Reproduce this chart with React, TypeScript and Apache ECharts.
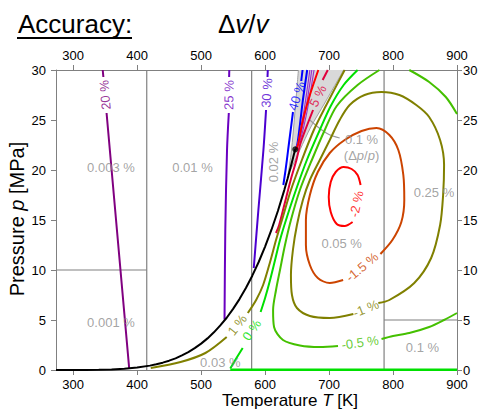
import React, { useEffect, useRef } from "react";
import * as echarts from "echarts";

const FONT = "'Liberation Sans', Arial, Helvetica, sans-serif";

// ---- axes ----
const xTicks = [300, 400, 500, 600, 700, 800, 900];
const tMin = 273.15;
const tMax = 900;

// ---- saturation curve [T K, p MPa] ----
const saturationCurve = [[273.16, 0.0006], [300, 0.0035], [320, 0.0106], [340, 0.0272], [360, 0.0622], [380, 0.129], [400, 0.2458], [420, 0.4373], [430, 0.5706], [440, 0.7334], [450, 0.9322], [460, 1.1687], [470, 1.466], [480, 1.7905], [490, 2.1861], [500, 2.6392], [510, 3.16], [520, 3.7651], [530, 4.46], [540, 5.2259], [550, 6.117], [560, 7.0879], [570, 8.2], [580, 9.43], [590, 10.8], [600, 12.345], [610, 14.03], [620, 15.901], [630, 17.99], [635, 19.11], [640, 20.3], [643, 21.04], [645, 21.55], [647.1, 22.064]];
const criticalPoint = [647.1, 22.064];

// ---- region boundaries ----
const boundaryLines = [
  [[415, 0], [415, 30]],
  [[579, 0], [579, 30]],
  [[786, 0], [786, 30]],
  [[273.15, 10], [415, 10]],
  [[786, 5], [900, 5]],
];
const wedgeLeft = [[652.1, 30], [648.2, 27], [644.3, 24], [640.4, 21.5], [635.8, 19.5]];
const wedgeRight = [[635.8, 19.5], [643.5, 20.5], [654.4, 22], [671.5, 24.3], [693.3, 26.7], [722.8, 30]];
const leaderLine = [[670, 25], [695.7, 23.7], [716.6, 23.2]];

// ---- isolines ----
const iso20 = [[[346.2, 30], [347.2, 29.3]], [[352.2, 25.7], [368.4, 14], [387.5, 0.2]]];
const iso25 = [[[544, 30], [543.8, 29.3]], [[543.3, 25.7], [540.5, 22], [537.8, 14], [536.6, 5.05]]];
const iso30 = [[[604.2, 30], [603.8, 29.3]], [[601.5, 26], [597.4, 22], [589.5, 16], [582.3, 10.2]]];
const iso40 = [[[658.6, 30], [656.5, 28.9]], [[643.6, 25.8], [639, 23.5], [636, 22], [632, 20], [628.5, 18.5]], [[665.8, 30], [659.1, 27], [654.4, 24.5], [650.5, 22.6], [648, 22.1]]];
const iso50 = [
  [[670, 30], [661, 26], [653, 23.2], [648.3, 22.1]],
  [[673, 30], [663.5, 26], [654.5, 23.2], [648.5, 22.1]],
  [[676.5, 30], [666, 26], [656, 23.2], [648.7, 22.1]],
];
const isoRed = [[[683.2, 30], [670, 27.5], [659.1, 25], [651.3, 22.5], [648.2, 22.05]]];
const iso5 = [[[698, 30], [690, 29]], [[675, 26], [664, 24.2], [655, 22.6], [649, 21], [640, 19], [630, 16.5], [622, 14.5], [617, 13.7]]];
const iso1 = [
  [[724.4, 30], [694.9, 26.4], [676.2, 24], [657.5, 21], [640.4, 18], [626.4, 15], [617.1, 13], [607.8, 10.8], [596.9, 8.5], [586, 7], [573, 5.7]],
  [[540, 3.3], [506.7, 1.7], [467.9, 0.8], [421.3, 0.2]],
];
const iso0 = [
  [[744.6, 30], [722.8, 28.5], [702.6, 26.4], [685.5, 24], [665.3, 21], [648.2, 18], [632.7, 15], [623.3, 13], [615.6, 11], [607.8, 9], [600, 7.2], [593, 5.8]],
  [[565, 2.2], [553.4, 1.0], [545.6, 0.15]],
];
const iso0Base = [[545.6, 0.03], [900, 0.03]];
const isoM05 = [
  [[778.8, 30], [744.6, 28.5], [712, 26.4], [693.3, 24], [673.1, 21], [654.4, 18], [640.4, 15], [631.1, 12.5], [623.3, 10], [617.1, 8], [612.5, 6], [614, 4.3], [628, 3], [654.4, 2.45], [685.5, 2.3], [714, 2.4]],
  [[782, 3.1], [800, 3.4], [825.4, 3.7], [856.5, 4.3], [879.8, 5.0], [900, 5.7]],
  [[825.4, 30], [856.5, 28.8], [882.5, 27.3], [900, 25.6]],
];
const isoM1 = [[[738, 5.6], [701.1, 5.2], [670, 5.4], [649.8, 6.2], [642, 7.5], [640.4, 9.5], [643.5, 12], [649.8, 14.5], [659.1, 17], [670, 19], [685.5, 21], [701.1, 23], [716.6, 25], [732.2, 26.5], [755.5, 27.5], [781.9, 27.8], [809.9, 27.5], [836.3, 26.5], [856.5, 25.3], [873.6, 23], [879.8, 20.5], [878.3, 17.5], [873.6, 14.5], [859.6, 11.2], [833.2, 8.7], [794.3, 7.0], [777, 6.7]]];
const isoM15 = [[[780.3, 11.6], [799, 13], [813, 14.8], [817.6, 17], [816.1, 19.5], [808.3, 22], [794.3, 23.5], [774.1, 24.2], [750.8, 23.9], [724.4, 23], [701.1, 21.7], [682.4, 19.8], [670, 17.5], [663.8, 15], [663.8, 12.5], [670, 10.5], [682.4, 9.2], [701.1, 8.7], [722, 9.0]]];
const isoM2 = [[[736.8, 14.8], [724.4, 14.4], [712, 14.6], [702.6, 15.8], [699.5, 17.3], [702.6, 18.8], [710.4, 19.8], [722.8, 20.3], [735.3, 20.1], [744.6, 19.5], [749.3, 18.5]]];

// ---- labels: [text, T, p, rotation, colour] ----
const contourLabels: [string, number, number, number, string][] = [
  ["20 %", 349.7, 27.5, 95, "#800080"],
  ["25 %", 543.5, 27.5, 89, "#6a00c0"],
  ["30 %", 602.8, 27.7, 86, "#4c00d0"],
  ["40 %", 649.5, 27.4, 72, "#0000ff"],
  ["5 %", 682.4, 27.4, 63, "#e0003c"],
  ["1 %", 556.5, 4.5, 52, "#808000"],
  ["0 %", 579, 4.0, 55, "#00e000"],
  ["-0.5 %", 748.5, 2.75, 8, "#44c000"],
  ["-1 %", 757.5, 6.15, 22, "#808000"],
  ["-1.5 %", 751.5, 10.3, 40, "#cc4400"],
  ["-2 %", 743, 16.6, 78, "#ff0000"],
];
const grayLabels: [string, number, number, number][] = [
  ["0.003 %", 359, 20.3, 0],
  ["0.01 %", 486.5, 20.3, 0],
  ["0.02 %", 612.4, 20.8, 90],
  ["0.1 %", 750.8, 23.1, 0],
  ["(Δ{i|p}/{i|p})", 750.8, 21.5, 0],
  ["0.25 %", 864, 17.8, 0],
  ["0.05 %", 719.7, 12.7, 0],
  ["0.001 %", 359, 4.8, 0],
  ["0.03 %", 530, 0.8, 0],
  ["0.1 %", 846, 2.27, 0],
];

const GRAY_TXT = "#8c8c8c";

function lineSeries(data: number[][], color: string, width = 2, smooth: number | boolean = 0.3, z = 3) {
  return {
    type: "line",
    data,
    xAxisIndex: 0,
    yAxisIndex: 0,
    symbol: "none",
    showSymbol: false,
    smooth,
    lineStyle: { color, width },
    z,
    silent: true,
    clip: true,
  };
}

function group(segs: number[][][], color: string, width = 2, smooth: number | boolean = 0.3, z = 3) {
  return segs.map((s) => lineSeries(s, color, width, smooth, z));
}

export default function App() {
  const ref = useRef<HTMLDivElement>(null);
  useEffect(() => {
    if (!ref.current) return;
    const chart = echarts.init(ref.current, undefined, { renderer: "svg" });
    const wedgePolygon = [...wedgeLeft, ...wedgeRight];
    const axisCommonX = (pos: string) => ({
      type: "value",
      min: tMin,
      max: tMax,
      position: pos,
      axisLine: { show: true, onZero: false, lineStyle: { color: "#808080", width: 1 } },
      axisTick: { show: true, customValues: xTicks, length: 5, lineStyle: { color: "#808080" } },
      axisLabel: { customValues: xTicks, color: "#000", fontSize: 13, fontFamily: FONT, margin: 8 },
      splitLine: { show: false },
    });
    const axisCommonY = (pos: string, margin: number) => ({
      type: "value",
      min: 0,
      max: 30,
      interval: 5,
      position: pos,
      axisLine: { show: true, onZero: false, lineStyle: { color: "#808080", width: 1 } },
      axisTick: { show: true, length: 5, lineStyle: { color: "#808080" } },
      axisLabel: { color: "#000", fontSize: 13, fontFamily: FONT, margin },
      splitLine: { show: false },
    });

    const series: any[] = [
      {
        type: "custom",
        coordinateSystem: "cartesian2d",
        xAxisIndex: 0,
        yAxisIndex: 0,
        data: [[650, 25]],
        silent: true,
        z: 1,
        renderItem: (params: any, api: any) => ({
          type: "polygon",
          shape: { points: wedgePolygon.map((p) => api.coord(p)) },
          style: { fill: "#d9d9d9", stroke: "none" },
        }),
      },
      ...group(boundaryLines, "#808080", 1.2, false, 2),
      lineSeries(wedgeLeft, "#a0a0a0", 1, 0.3, 2),
      lineSeries(wedgeRight, "#a0a0a0", 1, 0.3, 2),
      lineSeries(leaderLine, "#9a9a9a", 1.2, 0.4, 2),
      ...group(iso20, "#800080", 2, false),
      ...group(iso25, "#6a00c0", 2, 0.3),
      ...group(iso30, "#4c00d0", 2, 0.3),
      ...group(iso40, "#0000ff", 2, 0.3),
      ...group(iso50, "#9a33cc", 1.2, 0.3),
      ...group(isoRed, "#ff0000", 2, 0.3),
      ...group(iso5, "#e0003c", 2, 0.3),
      ...group(iso1, "#808000", 2, 0.3),
      ...group(iso0, "#00e000", 2, 0.3),
      lineSeries(iso0Base, "#00e000", 2.5, false),
      ...group(isoM05, "#44c000", 2, 0.3),
      ...group(isoM1, "#808000", 2, 0.3),
      ...group(isoM15, "#cc4400", 2, 0.3),
      ...group(isoM2, "#ff0000", 2, 0.3),
      lineSeries(saturationCurve, "#000000", 2, false, 5),
      {
        type: "scatter",
        data: [criticalPoint],
        symbolSize: 6,
        itemStyle: { color: "#000" },
        z: 6,
        silent: true,
      },
      {
        type: "scatter",
        symbolSize: 1,
        itemStyle: { color: "rgba(0,0,0,0)" },
        z: 8,
        silent: true,
        data: contourLabels.map(([text, T, p, rot, color]) => ({
          value: [T, p],
          label: { show: true, position: "inside", formatter: text, rotate: rot, color, fontSize: 13, fontFamily: FONT },
        })),
      },
      {
        type: "scatter",
        symbolSize: 1,
        itemStyle: { color: "rgba(0,0,0,0)" },
        z: 8,
        silent: true,
        data: grayLabels.map(([text, T, p, rot]) => ({
          value: [T, p],
          label: {
            show: true,
            position: "inside",
            formatter: text,
            rotate: rot,
            color: GRAY_TXT,
            fontSize: 13,
            fontFamily: FONT,
            rich: { i: { fontStyle: "italic", color: GRAY_TXT, fontSize: 13, fontFamily: FONT } },
          },
        })),
      },
    ];

    chart.setOption({
      animation: false,
      backgroundColor: "#ffffff",
      grid: { left: 56, right: 27, top: 70, bottom: 39, containLabel: false },
      xAxis: [axisCommonX("bottom"), axisCommonX("top")],
      yAxis: [axisCommonY("left", 10), axisCommonY("right", 6)],
      series,
      graphic: [
        {
          type: "text",
          x: 18,
          y: 24,
          style: { text: "Accuracy:", fontSize: 26, fontFamily: FONT, fill: "#000", align: "left", verticalAlign: "middle", textAlign: "left", textVerticalAlign: "middle" },
        },
        {
          type: "line",
          shape: { x1: 17, y1: 38, x2: 132, y2: 38 },
          style: { stroke: "#000", lineWidth: 2 },
        },
        {
          type: "text",
          x: 218,
          y: 24,
          style: {
            text: "Δ{i|v}/{i|v}",
            fontSize: 26,
            fontFamily: FONT,
            fill: "#000",
            align: "left",
            verticalAlign: "middle",
            textAlign: "left",
            textVerticalAlign: "middle",
            rich: { i: { fontStyle: "italic", fontSize: 26, fontFamily: FONT, fill: "#000" } },
          },
        },
        {
          type: "text",
          x: 17,
          y: 219,
          rotation: Math.PI / 2,
          style: {
            text: "Pressure {i|p} [MPa]",
            fontSize: 20,
            fontFamily: FONT,
            fill: "#000",
            align: "center",
            verticalAlign: "middle",
            textAlign: "center",
            textVerticalAlign: "middle",
            rich: { i: { fontStyle: "italic", fontSize: 20, fontFamily: FONT, fill: "#000" } },
          },
        },
        {
          type: "text",
          x: 290,
          y: 400,
          style: {
            text: "Temperature {i|T} [K]",
            fontSize: 17,
            fontFamily: FONT,
            fill: "#000",
            align: "center",
            verticalAlign: "middle",
            textAlign: "center",
            textVerticalAlign: "middle",
            rich: { i: { fontStyle: "italic", fontSize: 17, fontFamily: FONT, fill: "#000" } },
          },
        },
      ],
    });
    return () => chart.dispose();
  }, []);
  return <div ref={ref} style={{ position: "fixed", left: 0, top: 0, width: 484, height: 409 }} />;
}
